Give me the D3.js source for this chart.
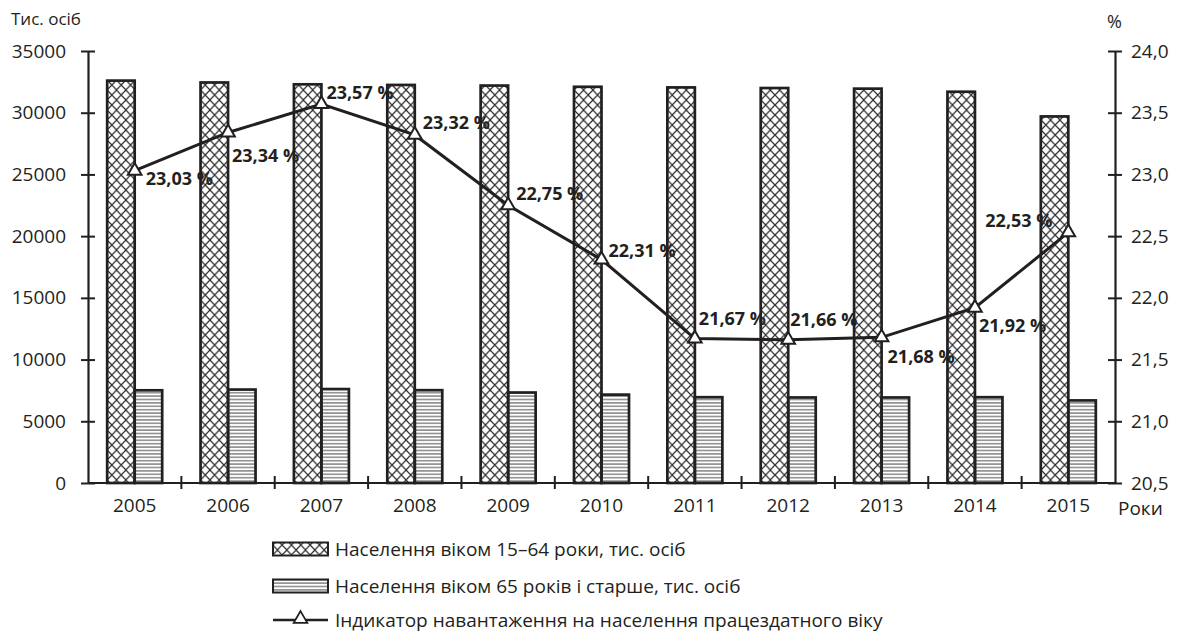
<!DOCTYPE html>
<html>
<head>
<meta charset="utf-8">
<script src="https://cdn.jsdelivr.net/npm/d3@7"></script>
<style>
  body { margin: 0; background: #fff; }
  text { font-family: "Open Sans", sans-serif; fill: #231f20; }
</style>
</head>
<body>
<svg id="chart" width="1177" height="639"></svg>
<script>
// Population of working age and elderly (thousand persons) and the old-age load indicator (%)
const years = ["2005","2006","2007","2008","2009","2010","2011","2012","2013","2014","2015"];
const working = [32600, 32450, 32300, 32250, 32200, 32100, 32050, 32000, 31950, 31700, 29700];
const elderly = [7510, 7570, 7610, 7520, 7330, 7160, 6950, 6930, 6930, 6950, 6690];
const ratio = [23.03, 23.34, 23.57, 23.32, 22.75, 22.31, 21.67, 21.66, 21.68, 21.92, 22.53];
const leftTicks = [0, 5000, 10000, 15000, 20000, 25000, 30000, 35000];
const rightTicks = [20.5, 21.0, 21.5, 22.0, 22.5, 23.0, 23.5, 24.0];
const seriesNames = [
  "Населення віком 15–64 роки, тис. осіб",
  "Населення віком 65 років і старше, тис. осіб",
  "Індикатор навантаження на населення працездатного віку"
];
// label placement relative to each point: [dx, dy]
const labelOffsets = [[11,14],[4,30],[5,-5],[8,-6],[8,-5],[7,-3],[4,-14],[2,-14],[6,26],[4,24],[-83,-5]];

const ink = "#231f20";
const svg = d3.select("#chart");
const plotL = 88, plotR = 1115, plotT = 51, plotB = 483;

const x = d3.scaleBand().domain(years).range([plotL, plotR]).padding(0);
const bw = x.bandwidth();
const x1 = d3.scaleBand().domain(["working", "elderly"]).range([bw / 2 - 27.5, bw / 2 + 27.5]).padding(0);
const yL = d3.scaleLinear().domain([0, 35000]).range([plotB, plotT]);
const yR = d3.scaleLinear().domain([20.5, 24]).range([plotB, plotT]);

// fill patterns
const defs = svg.append("defs");
const cross = defs.append("pattern").attr("id", "cross")
  .attr("patternUnits", "userSpaceOnUse").attr("width", 9.34).attr("height", 10)
  .attr("x", x1("working") + plotL);
cross.append("path").attr("d", "M0,0L9.34,10M9.34,0L0,10M-1,-1L1,1M8.34,11L10.34,9")
  .attr("stroke", "#2e2e2e").attr("stroke-width", 1.2).attr("fill", "none");
const hlines = defs.append("pattern").attr("id", "hlines")
  .attr("patternUnits", "userSpaceOnUse").attr("width", 10).attr("height", 3.4);
hlines.append("path").attr("d", "M0,1.7L10,1.7")
  .attr("stroke", "#5a5a5a").attr("stroke-width", 1.1);

// value labels (placed beneath the bars, as the hatching runs over them)
const px = i => x(years[i]) + bw / 2;
svg.append("g").selectAll("text").data(ratio).join("text")
  .attr("x", (d, i) => px(i) + labelOffsets[i][0])
  .attr("y", (d, i) => yR(d) + labelOffsets[i][1])
  .attr("font-size", 18).attr("font-weight", 700)
  .text(d => d.toFixed(2).replace(".", ",") + " %");

// bars
const bars = svg.append("g");
bars.selectAll("rect.w").data(working).join("rect").attr("class", "w")
  .attr("x", (d, i) => x(years[i]) + x1("working"))
  .attr("y", d => yL(d)).attr("width", x1.bandwidth()).attr("height", d => plotB - yL(d))
  .attr("fill", "url(#cross)").attr("stroke", ink).attr("stroke-width", 2.7);
bars.selectAll("rect.e").data(elderly).join("rect").attr("class", "e")
  .attr("x", (d, i) => x(years[i]) + x1("elderly"))
  .attr("y", d => yL(d)).attr("width", x1.bandwidth()).attr("height", d => plotB - yL(d))
  .attr("fill", "url(#hlines)").attr("stroke", ink).attr("stroke-width", 2.7);

// axes
const axL = svg.append("g").attr("transform", `translate(${plotL},0)`)
  .call(d3.axisLeft(yL).tickValues(leftTicks).tickSizeInner(7).tickSizeOuter(0).tickPadding(15).tickFormat(d3.format("d")));
axL.selectAll(".tick line").attr("x1", 7);
const axR = svg.append("g").attr("transform", `translate(${plotR},0)`)
  .call(d3.axisRight(yR).tickValues(rightTicks).tickSizeInner(7).tickSizeOuter(0).tickPadding(9).tickFormat(d => d.toFixed(1).replace(".", ",")));
axR.selectAll(".tick line").attr("x1", -7);
const axB = svg.append("g").attr("transform", `translate(0,${plotB})`)
  .call(d3.axisBottom(x).tickSize(0).tickPadding(16));
axB.selectAll(".tick line").remove();
axB.select(".domain").attr("d", `M${plotL},0H${plotR}`);
axB.selectAll("line.sep").data(years.slice(1)).join("line").attr("class", "sep")
  .attr("x1", d => x(d)).attr("x2", d => x(d)).attr("y1", -7).attr("y2", 6)
  .attr("stroke", ink).attr("stroke-width", 2);
[axL, axR, axB].forEach(g => {
  g.selectAll(".domain").attr("stroke", ink).attr("stroke-width", 2.2);
  g.selectAll(".tick line").attr("stroke", ink).attr("stroke-width", 2);
  g.selectAll("text").attr("font-size", 19).attr("fill", ink).attr("font-family", "\"Open Sans\", sans-serif");
});

// axis titles
svg.append("text").attr("x", 11).attr("y", 25).attr("font-size", 17).text("Тис. осіб");
svg.append("text").attr("x", 1107).attr("y", 28).attr("font-size", 18).text("%");
svg.append("text").attr("x", 1118).attr("y", 515).attr("font-size", 19).text("Роки");

// indicator line
const line = d3.line().x((d, i) => px(i)).y(d => yR(d));
svg.append("path").datum(ratio).attr("d", line)
  .attr("fill", "none").attr("stroke", ink).attr("stroke-width", 3);
const tri = d3.symbol().type(d3.symbolTriangle).size(80);
svg.append("g").selectAll("path").data(ratio).join("path")
  .attr("transform", (d, i) => `translate(${px(i)},${yR(d)})`)
  .attr("d", tri).attr("fill", "#fff").attr("stroke", ink).attr("stroke-width", 2);

// legend
const lg = svg.append("g").attr("transform", "translate(273,0)");
const rows = [549, 586, 620];
lg.append("rect").attr("x", 0).attr("y", rows[0] - 6.5).attr("width", 55).attr("height", 13)
  .attr("fill", "url(#cross)").attr("stroke", ink).attr("stroke-width", 2);
lg.append("rect").attr("x", 0).attr("y", rows[1] - 6.5).attr("width", 55).attr("height", 13)
  .attr("fill", "url(#hlines)").attr("stroke", ink).attr("stroke-width", 2);
lg.append("line").attr("x1", 0).attr("x2", 55).attr("y1", rows[2]).attr("y2", rows[2])
  .attr("stroke", ink).attr("stroke-width", 2.5);
lg.append("path").attr("transform", `translate(27.5,${rows[2] - 1})`)
  .attr("d", tri).attr("fill", "#fff").attr("stroke", ink).attr("stroke-width", 1.8);
lg.selectAll("text.lbl").data(seriesNames).join("text").attr("class", "lbl")
  .attr("x", 62).attr("y", (d, i) => rows[i] + 6.5)
  .attr("font-size", 19).text(d => d);
</script>
</body>
</html>
